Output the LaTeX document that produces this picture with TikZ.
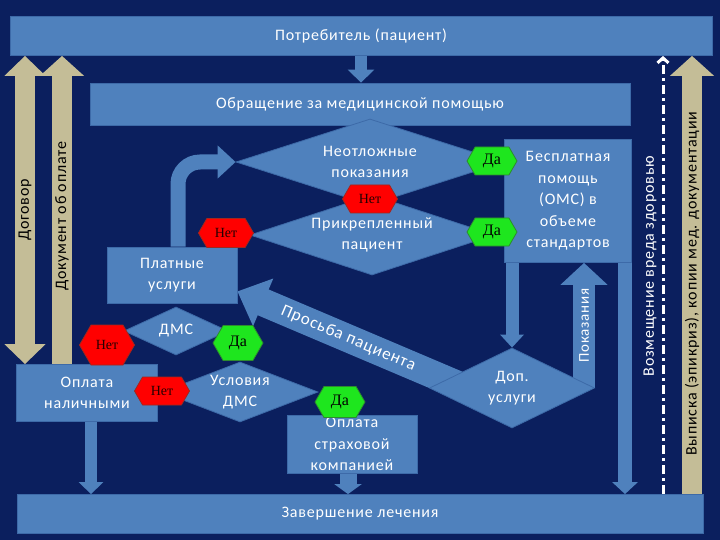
\documentclass[tikz,border=0pt]{standalone}
\usepackage{fontspec}
\setmainfont{Carlito}[LetterSpace=5]
\newfontfamily\hexfont{Liberation Serif}
\usepackage{tikz}
\usetikzlibrary{shapes.geometric,shapes.symbols,arrows.meta,positioning,calc}
\definecolor{SlideNavy}{HTML}{0B1F5E}
\definecolor{BoxBlue}{HTML}{4F81BD}
\definecolor{BoxEdge}{HTML}{3D6AA8}
\definecolor{ArrowTan}{HTML}{C4BD97}
\definecolor{NoRed}{HTML}{FF0000}
\definecolor{NoEdge}{HTML}{A0281E}
\definecolor{YesGreen}{HTML}{1EE61E}
\definecolor{YesEdge}{HTML}{2E8B2E}
\pgfdeclarelayer{backdrop}
\pgfdeclarelayer{flow}
\pgfsetlayers{backdrop,flow,main}
\tikzset{
    % Base box style
    basebox/.style={
        draw=BoxEdge,
        fill=BoxBlue,
        line width=0.8pt,
        text=white,
        align=center,
        inner sep=0pt,
        font=\fontsize{16}{21.5}\selectfont
    },
    % Decision diamond (text goes in a centre label)
    decision/.style={
        diamond,
        draw=BoxEdge,
        fill=BoxBlue,
        line width=0.8pt,
        inner sep=0pt
    },
    decisiontext/.style={
        text=white,
        align=center,
        inner sep=0pt,
        font=\fontsize{16}{21.5}\selectfont
    },
    % Yes / no hexagons
    answer/.style={
        signal,
        signal to=east and west,
        signal pointer angle=120,
        line width=0.8pt,
        inner sep=0pt,
        minimum height=28pt,
        text=black
    },
    yesnode/.style={
        answer,
        fill=YesGreen,
        draw=YesEdge,
        minimum width=50pt,
        font=\hexfont\fontsize{16}{18}\selectfont
    },
    nonode/.style={
        answer,
        fill=NoRed,
        draw=NoEdge,
        minimum width=55pt,
        text=black!85!red,
        font=\hexfont\fontsize{14}{16}\selectfont
    },
    % Block arrow: shaft width, head width, head length
    blockarrow/.style n args={3}{
        draw=BoxBlue,
        line width=#1,
        -{Triangle[width=#2,length=#3]}
    },
    % Tan document arrows
    tanarrow/.style={
        draw=ArrowTan,
        line width=20pt,
        -{Triangle[width=43pt,length=20pt]}
    },
    tanboth/.style={
        draw=ArrowTan,
        line width=20pt,
        {Triangle[width=40pt,length=20pt]}-{Triangle[width=40pt,length=20pt]}
    },
    tanlabel/.style={
        text=black,
        inner sep=0pt,
        font=\fontsize{16}{18}\selectfont
    },
    % Dashed compensation arrow
    damagearrow/.style={
        draw=white,
        line width=3pt,
        dash pattern=on 9pt off 4pt on 3pt off 4pt,
        -{Straight Barb[length=5pt,width=11pt]}
    },
    whitelabel/.style={
        text=white,
        inner sep=0pt,
        font=\fontsize{16}{18}\selectfont
    }
}
\begin{document}
\begin{tikzpicture}[x=1pt, y=-1pt]
    \begin{pgfonlayer}{backdrop}
        \fill[SlideNavy] (0,0) rectangle (720,540);
    \end{pgfonlayer}
    \useasboundingbox (0,0) rectangle (720,540);

    % x positions of the vertical arrows
    \coordinate (contractx) at (25,0);
    \coordinate (receiptx) at (62,0);
    \coordinate (cashx) at (91,0);
    \coordinate (insx) at (348,0);
    \coordinate (freelx) at (512,0);
    \coordinate (indx) at (584,0);
    \coordinate (freerx) at (625,0);
    \coordinate (damagex) at (663,0);
    \coordinate (dischargex) at (692,0);

    % boxes
    \node[basebox, minimum width=702pt, minimum height=39pt] (client) at (361,36) {Потребитель (пациент)};
    \node[basebox, minimum width=540pt, minimum height=42pt] (request) at (360,104) {Обращение за медицинской помощью};
    \node[basebox, minimum width=127pt, minimum height=123pt] (free) at (568,201) {Бесплатная\\помощь\\(ОМС) в\\объеме\\стандартов};
    \node[basebox, minimum width=130pt, minimum height=56pt] (paid) at (172,275) {Платные\\услуги};
    \node[basebox, minimum width=141pt, minimum height=57pt] (cash) at (87,393) {Оплата\\наличными};
    \node[basebox, minimum width=130pt, minimum height=58pt] (insurer) at (352,444) {Оплата\\страховой\\компанией};
    \node[basebox, minimum width=686pt, minimum height=39pt] (finish) at (360,514) {Завершение лечения};

    % decisions
    \node[decision, minimum width=268pt, minimum height=86pt, label={[decisiontext]center:Неотложные\\показания}] (urgent) at (370,162) {};
    \node[decision, minimum width=244pt, minimum height=80pt, label={[decisiontext]center:Прикрепленный\\пациент}] (attached) at (372,235) {};
    \node[decision, minimum width=104pt, minimum height=48pt, label={[decisiontext]center:ДМС}] (dms) at (176,331) {};
    \node[decision, minimum width=156pt, minimum height=60pt, label={[decisiontext]center:Условия\\ДМС}] (terms) at (240,392) {};
    \node[decision, minimum width=165pt, minimum height=80pt, label={[decisiontext]center:Доп.\\услуги}] (extra) at (512,388) {};

    % answers
    \node[yesnode] (yesurgent) at (492,161) {Да};
    \node[yesnode] (yesattached) at (492,232) {Да};
    \node[nonode] (nourgent) at (370,199) {Нет};
    \node[nonode, minimum height=29pt] (noattached) at (226,233) {Нет};
    \node[nonode, minimum height=40pt] (nodms) at (107,345) {Нет};
    \node[nonode] (noterms) at (162,391) {Нет};
    \node[yesnode, minimum height=35pt] (yesdms) at (238,343) {Да};
    \node[yesnode, minimum height=31pt] (yesterms) at (340,402) {Да};

    \begin{pgfonlayer}{flow}
        \draw[blockarrow={12pt}{26pt}{13pt}] (client.south) -- (client.south |- request.north);
        \draw[blockarrow={15pt}{32pt}{18pt}, rounded corners=22pt] ([xshift=6pt]paid.north) |- (urgent.west);
        \draw[blockarrow={28pt}{50pt}{28pt}, shorten <=-20pt] ([xshift=10pt,yshift=11pt]extra.west) -- node[sloped, whitelabel, font=\fontsize{17}{20}\selectfont, pos=0.45] {Просьба пациента} ([yshift=12pt]paid.south east);
        \draw[blockarrow={13pt}{23pt}{13pt}] (free.south -| freelx) -- (extra.north -| freelx);
        \draw[blockarrow={22pt}{46pt}{22pt}] (extra.east -| indx) -- node[sloped, whitelabel, font=\fontsize{15}{18}\selectfont] {Показания} (free.south -| indx);
        \draw[blockarrow={14pt}{25pt}{12pt}] (free.south -| freerx) -- (finish.north -| freerx);
        \draw[blockarrow={12pt}{24pt}{12pt}] (cash.south -| cashx) -- (finish.north -| cashx);
        \draw[blockarrow={17pt}{27pt}{10pt}] (insurer.south -| insx) -- (finish.north -| insx);

        \draw[tanboth] (cash.north -| contractx) -- node[sloped, tanlabel] {Договор} (client.south -| contractx);
        \draw[tanarrow] (cash.north -| receiptx) -- node[sloped, tanlabel, pos=0.48] {Документ об оплате} (client.south -| receiptx);
        \draw[tanarrow] (finish.north -| dischargex) -- node[sloped, tanlabel, pos=0.48] {Выписка (эпикриз), копии мед. документации} (client.south -| dischargex);
        \draw[damagearrow] (finish.north -| damagex) -- node[sloped, whitelabel, above=5pt, pos=0.52] {Возмещение вреда здоровью} (client.south -| damagex);
    \end{pgfonlayer}
\end{tikzpicture}
\end{document}
